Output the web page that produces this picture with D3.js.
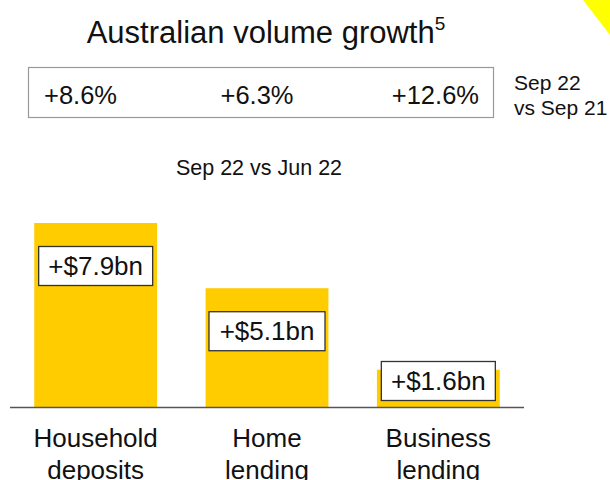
<!DOCTYPE html>
<html>
<head>
<meta charset="utf-8">
<script src="https://cdn.jsdelivr.net/npm/d3@7"></script>
<style>
  html, body { margin: 0; padding: 0; background: #fff; }
  svg { display: block; font-family: "Liberation Sans", Arial, sans-serif; }
</style>
</head>
<body>
<div id="chart"></div>
<script>
// Data
const categories = [['Household', 'deposits'], ['Home', 'lending'], ['Business', 'lending']];
const quarterGrowth = [7.9, 5.1, 1.6];            // $bn, Sep 22 vs Jun 22
const quarterLabels = ['+$7.9bn', '+$5.1bn', '+$1.6bn'];
const annualLabels = ['+8.6%', '+6.3%', '+12.6%'];  // Sep 22 vs Sep 21

const W = 610, H = 480;
const svg = d3.select('#chart').append('svg')
  .attr('width', W).attr('height', H);

// corner accent
svg.append('path')
  .attr('d', 'M583,0 L610,0 L610,35 Z')
  .attr('fill', '#ffff00');

// Title
const title = svg.append('text')
  .attr('x', 266).attr('y', 43)
  .attr('text-anchor', 'middle')
  .style('font-size', '31px')
  .attr('fill', '#111');
title.append('tspan').text('Australian volume growth');
title.append('tspan').attr('dy', -13).style('font-size', '19px').text('5');

// Annual growth box
svg.append('rect')
  .attr('x', 28.5).attr('y', 67.5).attr('width', 465).attr('height', 50)
  .attr('fill', '#fff').attr('stroke', '#999').attr('stroke-width', 1.2);

const annualX = [44, 257, 479];
const annualAnchor = ['start', 'middle', 'end'];
svg.selectAll('.annual')
  .data(annualLabels)
  .enter().append('text')
  .attr('class', 'annual')
  .attr('x', (d, i) => annualX[i])
  .attr('y', 104)
  .attr('text-anchor', (d, i) => annualAnchor[i])
  .style('font-size', '25.5px')
  .attr('fill', '#111')
  .text(d => d);

const side = svg.append('text')
  .style('font-size', '21px').attr('fill', '#111');
side.append('tspan').attr('x', 514).attr('y', 90).text('Sep 22');
side.append('tspan').attr('x', 514).attr('y', 115).text('vs Sep 21');

svg.append('text')
  .attr('x', 259).attr('y', 175)
  .attr('text-anchor', 'middle')
  .style('font-size', '21.5px').attr('fill', '#111')
  .text('Sep 22 vs Jun 22');

// Bars
const baseY = 407;
const yScale = d3.scaleLinear()
  .domain([0, 7.9])
  .range([baseY, 223]);

const barX = d3.scaleBand()
  .domain(d3.range(categories.length))
  .range([10, 524])
  .paddingInner(0.283)
  .paddingOuter(0.1415);

svg.selectAll('.bar')
  .data(quarterGrowth)
  .enter().append('rect')
  .attr('class', 'bar')
  .attr('x', (d, i) => barX(i))
  .attr('y', d => yScale(d))
  .attr('width', barX.bandwidth())
  .attr('height', d => baseY - yScale(d))
  .attr('fill', '#ffcc00');

// axis line
svg.append('line')
  .attr('x1', 10).attr('x2', 524)
  .attr('y1', baseY + 0.5).attr('y2', baseY + 0.5)
  .attr('stroke', '#555').attr('stroke-width', 1.3);

// value boxes
const boxH = 39;
const boxW = [114, 116, 114];
const boxTop = d => Math.min(yScale(d) + 23, baseY - 46);
const boxes = svg.selectAll('.vbox')
  .data(quarterGrowth)
  .enter().append('g')
  .attr('class', 'vbox')
  .attr('transform', (d, i) => `translate(${barX(i) + barX.bandwidth() / 2},${boxTop(d)})`);

boxes.append('rect')
  .attr('x', (d, i) => -boxW[i] / 2)
  .attr('y', 0.5)
  .attr('width', (d, i) => boxW[i])
  .attr('height', boxH)
  .attr('fill', '#fff')
  .attr('stroke', '#333')
  .attr('stroke-width', 1.3);

boxes.append('text')
  .attr('x', 0).attr('y', 29)
  .attr('text-anchor', 'middle')
  .style('font-size', '26px').attr('fill', '#111')
  .text((d, i) => quarterLabels[i]);

// category labels
const cat = svg.selectAll('.cat')
  .data(categories)
  .enter().append('text')
  .attr('class', 'cat')
  .attr('text-anchor', 'middle')
  .style('font-size', '26px').attr('fill', '#111');
cat.each(function (d, i) {
  const cx = barX(i) + barX.bandwidth() / 2;
  d3.select(this).selectAll('tspan')
    .data(d).enter().append('tspan')
    .attr('x', cx)
    .attr('y', (t, j) => 447 + j * 32)
    .text(t => t);
});
</script>
</body>
</html>
